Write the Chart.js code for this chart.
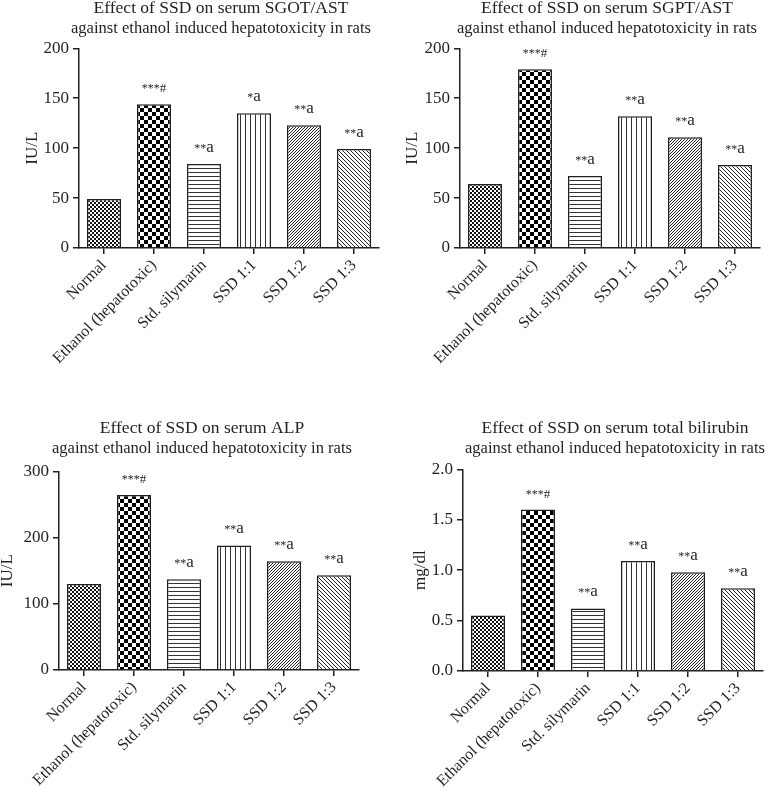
<!DOCTYPE html>
<html>
<head>
<meta charset="utf-8">
<script src="https://cdn.jsdelivr.net/npm/chart.js@4/dist/chart.umd.min.js"></script>
<style>
  body { margin: 0; background: #fff; }
  #wrap { position: relative; width: 772px; height: 790px; }
  .panel { position: absolute; width: 386px; height: 395px; }
</style>
</head>
<body>
<div id="wrap">
  <div class="panel" style="left:0;top:0"><canvas id="sgot" width="386" height="395"></canvas></div>
  <div class="panel" style="left:386px;top:0"><canvas id="sgpt" width="386" height="395"></canvas></div>
  <div class="panel" style="left:0;top:395px"><canvas id="alp" width="386" height="395"></canvas></div>
  <div class="panel" style="left:386px;top:395px"><canvas id="bili" width="386" height="395"></canvas></div>
</div>
<script>
// groups and values
var groups = ['Normal', 'Ethanol (hepatotoxic)', 'Std. silymarin', 'SSD 1:1', 'SSD 1:2', 'SSD 1:3'];
var sgotValues = [49, 144, 84, 135, 123, 99];
var sgptValues = [64, 179, 72, 132, 111, 83];
var alpValues = [130, 264, 137, 188, 164, 143];
var bilirubinValues = [0.55, 1.60, 0.62, 1.09, 0.98, 0.82];

// significance marks above the bars
var sgotMarks = ['', '***#', '**a', '*a', '**a', '**a'];
var otherMarks = ['', '***#', '**a', '**a', '**a', '**a'];

var ink = '#231f20';
var serif = '"Liberation Serif", "DejaVu Serif", serif';

// bar fill patterns (one per group)
function makePattern(kind) {
    var c = document.createElement('canvas');
    var g = c.getContext('2d');
    var s;
    if (kind == 'fine') {
        c.width = 4; c.height = 4;
        g.fillStyle = '#fff'; g.fillRect(0, 0, 4, 4);
        g.fillStyle = '#111';
        g.fillRect(0, 0, 2, 2); g.fillRect(2, 2, 2, 2);
    } else if (kind == 'check') {
        c.width = 8; c.height = 8;
        g.fillStyle = '#fff'; g.fillRect(0, 0, 8, 8);
        g.fillStyle = '#000';
        g.fillRect(0, 0, 4, 4); g.fillRect(4, 4, 4, 4);
    } else if (kind == 'hlines') {
        c.width = 4; c.height = 4;
        g.fillStyle = '#fff'; g.fillRect(0, 0, 4, 4);
        g.fillStyle = '#333'; g.fillRect(0, 0, 4, 1);
    } else if (kind == 'vlines') {
        c.width = 5; c.height = 5;
        g.fillStyle = '#fff'; g.fillRect(0, 0, 5, 5);
        g.fillStyle = '#333'; g.fillRect(0, 0, 1, 5);
    } else if (kind == 'fwd') {
        s = 3;
        c.width = s; c.height = s;
        g.fillStyle = '#fff'; g.fillRect(0, 0, s, s);
        g.fillStyle = '#222';
        for (var i = 0; i < s; i++) g.fillRect(i, s - 1 - i, 1, 1);
    } else {
        s = 4;
        c.width = s; c.height = s;
        g.fillStyle = '#fff'; g.fillRect(0, 0, s, s);
        g.fillStyle = '#222';
        for (var j = 0; j < s; j++) g.fillRect(j, j, 1, 1);
    }
    return g.createPattern(c, 'repeat');
}

var fills = ['fine', 'check', 'hlines', 'vlines', 'fwd', 'back'].map(makePattern);

// draws the *, # and a marks above each bar
var markPlugin = {
    id: 'sigMarks',
    afterDatasetsDraw: function(chart) {
        var meta = chart.getDatasetMeta(0);
        var marks = chart.data.datasets[0].marks;
        var c = chart.ctx;
        meta.data.forEach(function(bar, i) {
            var m = marks[i];
            if (!m) return;
            var stars = m.replace(/[^*]/g, '');
            var rest = m.replace(/\*/g, '');
            var restSize = rest == '#' ? 13 : 17;
            c.save();
            c.fillStyle = ink;
            c.textAlign = 'left';
            c.textBaseline = 'alphabetic';
            c.font = '12px ' + serif;
            var ws = c.measureText(stars).width;
            c.font = restSize + 'px ' + serif;
            var wr = c.measureText(rest).width;
            var x0 = bar.x - (ws + wr) / 2;
            c.font = '12px ' + serif;
            c.fillText(stars, x0, bar.y - 12);
            c.font = restSize + 'px ' + serif;
            c.fillText(rest, x0 + ws, bar.y - 12);
            c.restore();
        });
    }
};

// o.left = chart-area left edge, o.titleX = centre of the title lines,
// o.yTitleX = centre of the rotated axis title (all in canvas pixels)
function buildChart(id, o) {
    var ctx = document.getElementById(id).getContext('2d');
    var yTitleSize = 17, yTitleLH = 1.2;

    // moves the title block so its lines centre on o.titleX
    var titleShift = {
        id: 'titleShift',
        afterLayout: function(chart) {
            var t = chart.titleBlock;
            if (!t) return;
            var dx = o.titleX - (t.left + t.right) / 2;
            t.left += dx;
            t.right += dx;
        }
    };

    return new Chart(ctx, {
        type: 'bar',
        data: {
            labels: groups,
            datasets: [{
                data: o.values,
                marks: o.marks,
                backgroundColor: fills,
                borderColor: ink,
                borderWidth: 1.5,
                barPercentage: 0.68,
                categoryPercentage: 1
            }]
        },
        options: {
            responsive: false,
            animation: false,
            layout: { padding: { left: 0, top: 0, right: o.padRight, bottom: 0 } },
            plugins: {
                legend: { display: false },
                tooltip: { enabled: false },
                title: {
                    display: true,
                    text: o.title,
                    fullSize: false,
                    color: ink,
                    font: { family: serif, size: 17.5, weight: 'normal', lineHeight: 1.15 },
                    padding: { top: o.titleTop, bottom: o.titleBottom }
                }
            },
            scales: {
                x: {
                    offset: true,
                    grid: { offset: false, drawOnChartArea: false, tickLength: 6, color: ink, lineWidth: 1.5 },
                    border: { color: ink, width: 1.5 },
                    ticks: {
                        color: ink,
                        font: { family: serif, size: 16 },
                        minRotation: 45,
                        maxRotation: 45,
                        autoSkip: false,
                        padding: 2
                    },
                    afterFit: function(s) { s.height = o.xHeight; }
                },
                y: {
                    min: 0,
                    max: o.yMax,
                    grid: { drawOnChartArea: false, tickLength: 6, color: ink, lineWidth: 1.5 },
                    border: { color: ink, width: 1.5 },
                    ticks: {
                        stepSize: o.yStep,
                        color: ink,
                        padding: 4,
                        font: { family: serif, size: 17 },
                        callback: function(v) { return v.toFixed(o.decimals); }
                    },
                    title: {
                        display: true,
                        text: o.yLabel,
                        color: ink,
                        font: { family: serif, size: yTitleSize, lineHeight: yTitleLH },
                        padding: { top: o.yTitleX - yTitleSize * yTitleLH / 2, bottom: 0 }
                    },
                    afterFit: function(s) { s.width = o.left; }
                }
            }
        },
        plugins: [markPlugin, titleShift]
    });
}

buildChart('sgot', {
    values: sgotValues, marks: sgotMarks,
    title: ['Effect of SSD on serum SGOT/AST', 'against ethanol induced hepatotoxicity in rats'],
    yLabel: 'IU/L', yMax: 200, yStep: 50, decimals: 0,
    left: 79, padRight: 7, titleX: 221, titleTop: -2, titleBottom: 10, xHeight: 147, yTitleX: 33
});
buildChart('sgpt', {
    values: sgptValues, marks: otherMarks,
    title: ['Effect of SSD on serum SGPT/AST', 'against ethanol induced hepatotoxicity in rats'],
    yLabel: 'IU/L', yMax: 200, yStep: 50, decimals: 0,
    left: 74, padRight: 12, titleX: 221, titleTop: -2, titleBottom: 10, xHeight: 147, yTitleX: 27
});
buildChart('alp', {
    values: alpValues, marks: otherMarks,
    title: ['Effect of SSD on serum ALP', 'against ethanol induced hepatotoxicity in rats'],
    yLabel: 'IU/L', yMax: 300, yStep: 100, decimals: 0,
    left: 59, padRight: 27, titleX: 202, titleTop: 23, titleBottom: 13, xHeight: 120, yTitleX: 8
});
buildChart('bili', {
    values: bilirubinValues, marks: otherMarks,
    title: ['Effect of SSD on serum total bilirubin', 'against ethanol induced hepatotoxicity in rats'],
    yLabel: 'mg/dl', yMax: 2.0, yStep: 0.5, decimals: 1,
    left: 77, padRight: 9, titleX: 229, titleTop: 23, titleBottom: 11, xHeight: 119, yTitleX: 35
});
</script>
</body>
</html>
